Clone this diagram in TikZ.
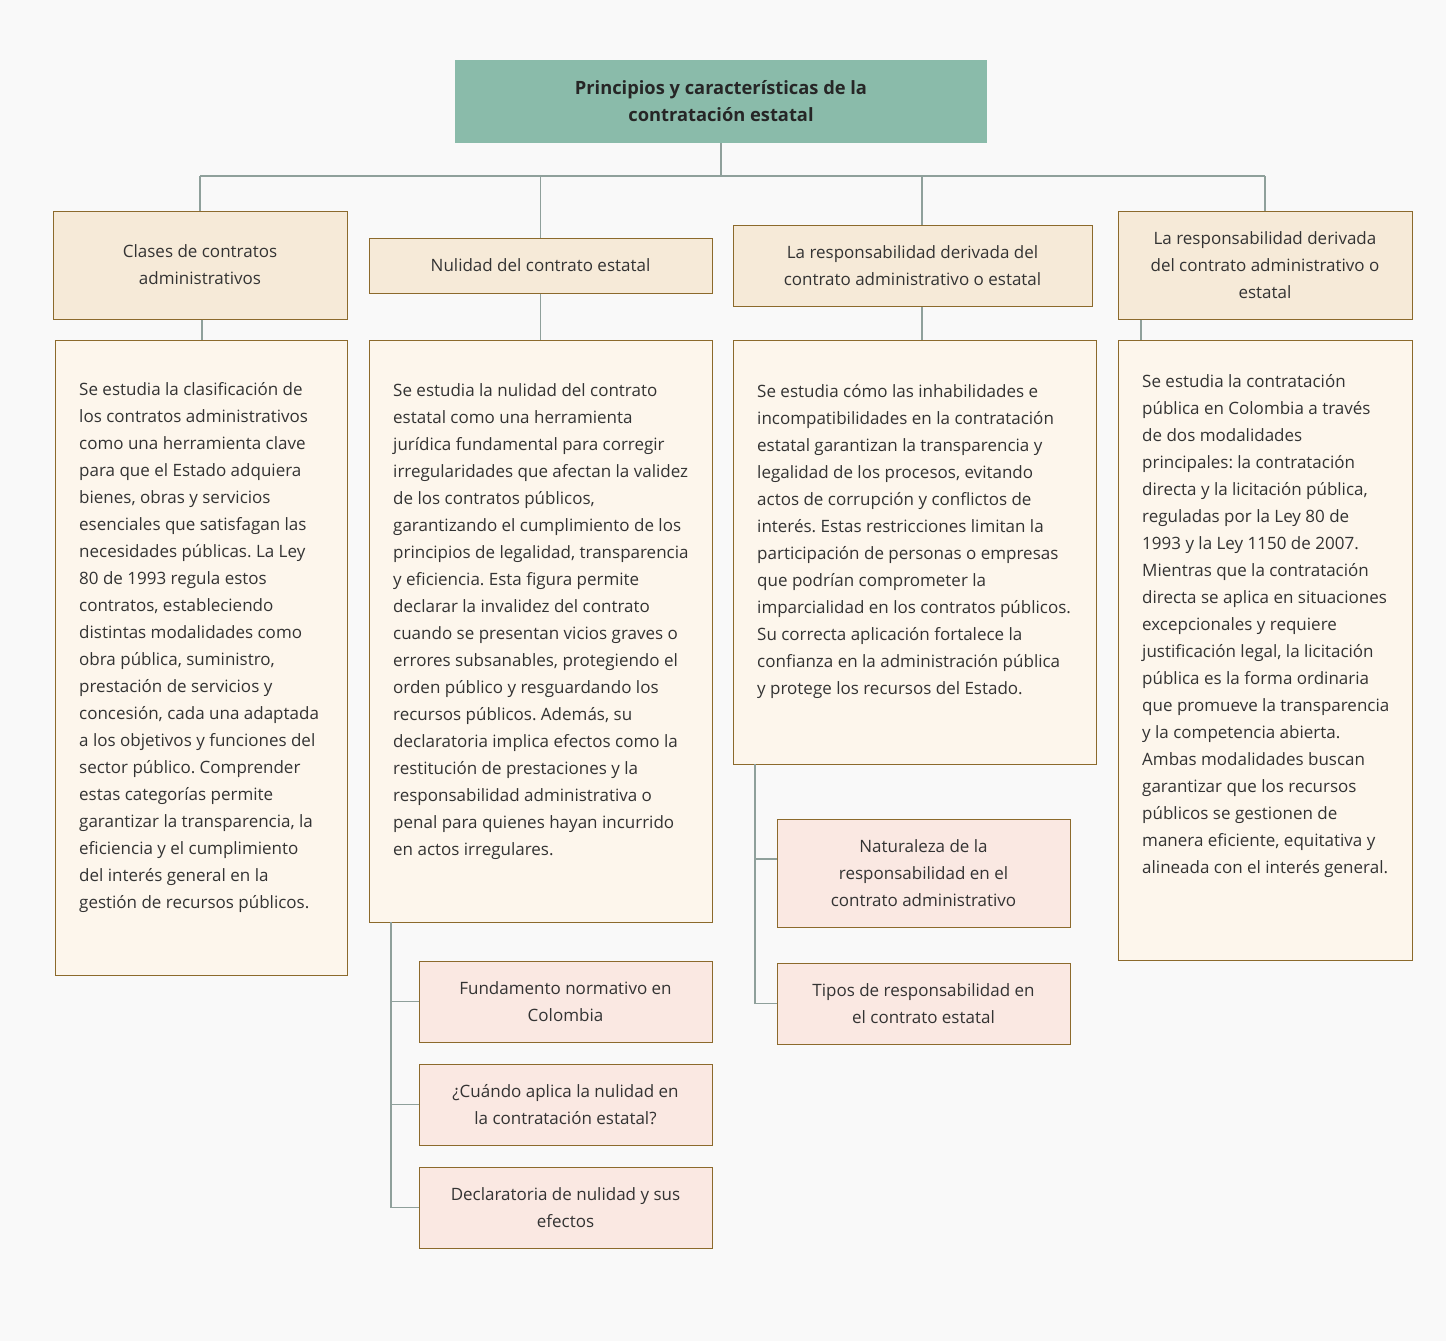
\documentclass[tikz,border=0pt]{standalone}
\usepackage{fontspec}
\setmainfont{Open Sans}
\usetikzlibrary{calc}
\frenchspacing
\definecolor{bgc}{HTML}{F9F9F9}
\definecolor{titlefill}{HTML}{8ABBAA}
\definecolor{headfill}{HTML}{F6EAD8}
\definecolor{bodyfill}{HTML}{FDF6EC}
\definecolor{subfill}{HTML}{FAE8E2}
\definecolor{brd}{HTML}{8C6A2C}
\definecolor{conncol}{HTML}{8FA09B}
\definecolor{txt}{HTML}{333333}
\tikzset{
  boxbase/.style={rectangle, draw=brd, line width=1pt, inner sep=0pt, text=txt,
    align=center, font=\fontsize{17}{27}\selectfont},
  titlebox/.style={rectangle, fill=titlefill, inner sep=0pt, text=black!85,
    align=center, font=\bfseries\fontsize{18.3}{27}\selectfont},
  headbox/.style={boxbase, fill=headfill},
  bodybox/.style={boxbase, fill=bodyfill},
  subbox/.style={boxbase, fill=subfill},
  bodytext/.style={anchor=north west, inner sep=0pt, align=left, text=txt,
    font=\fontsize{17}{27}\selectfont},
  conn/.style={draw=conncol, line width=1.4pt},
}
\begin{document}
\begin{tikzpicture}[x=1pt,y=-1pt]
\fill[bgc] (0,0) rectangle (1446,1341);
\useasboundingbox (0,0) rectangle (1446,1341);

% title
\node[titlebox, minimum width=532pt, minimum height=83pt] (title) at (721,101.5)
  {Principios y características de la\\contratación estatal};

% headers
\node[headbox, minimum width=294pt, minimum height=108pt] (h1) at (200,265)
  {Clases de contratos\\administrativos};
\node[headbox, minimum width=343pt, minimum height=55pt] (h2) at (540.5,265.5)
  {Nulidad del contrato estatal};
\node[headbox, minimum width=359pt, minimum height=81pt] (h3) at (912.5,265.5)
  {La responsabilidad derivada del\\contrato administrativo o estatal};
\node[headbox, minimum width=294pt, minimum height=108pt] (h4) at (1265,265)
  {La responsabilidad derivada\\del contrato administrativo o\\estatal};

% bodies
\node[bodybox, minimum width=292pt, minimum height=635pt] (b1) at (201,657.5) {};
\node[bodybox, minimum width=343pt, minimum height=582pt] (b2) at (540.5,631) {};
\node[bodybox, minimum width=363pt, minimum height=424pt] (b3) at (914.5,552) {};
\node[bodybox, minimum width=294pt, minimum height=620pt] (b4) at (1265,650) {};

\node[bodytext] (b1t) at (79,376) {\strut Se estudia la clasificación de\\
los contratos administrativos\\
como una herramienta clave\\
para que el Estado adquiera\\
bienes, obras y servicios\\
esenciales que satisfagan las\\
necesidades públicas. La Ley\\
80 de 1993 regula estos\\
contratos, estableciendo\\
distintas modalidades como\\
obra pública, suministro,\\
prestación de servicios y\\
concesión, cada una adaptada\\
a los objetivos y funciones del\\
sector público. Comprender\\
estas categorías permite\\
garantizar la transparencia, la\\
eficiencia y el cumplimiento\\
del interés general en la\\
gestión de recursos públicos.};

\node[bodytext] (b2t) at (393,377) {\strut Se estudia la nulidad del contrato\\
estatal como una herramienta\\
jurídica fundamental para corregir\\
irregularidades que afectan la validez\\
de los contratos públicos,\\
garantizando el cumplimiento de los\\
principios de legalidad, transparencia\\
y eficiencia. Esta figura permite\\
declarar la invalidez del contrato\\
cuando se presentan vicios graves o\\
errores subsanables, protegiendo el\\
orden público y resguardando los\\
recursos públicos. Además, su\\
declaratoria implica efectos como la\\
restitución de prestaciones y la\\
responsabilidad administrativa o\\
penal para quienes hayan incurrido\\
en actos irregulares.};

\node[bodytext] (b3t) at (757,378) {\strut Se estudia cómo las inhabilidades e\\
incompatibilidades en la contratación\\
estatal garantizan la transparencia y\\
legalidad de los procesos, evitando\\
actos de corrupción y conflictos de\\
interés. Estas restricciones limitan la\\
participación de personas o empresas\\
que podrían comprometer la\\
imparcialidad en los contratos públicos.\\
Su correcta aplicación fortalece la\\
confianza en la administración pública\\
y protege los recursos del Estado.};

\node[bodytext] (b4t) at (1142,368) {\strut Se estudia la contratación\\
pública en Colombia a través\\
de dos modalidades\\
principales: la contratación\\
directa y la licitación pública,\\
reguladas por la Ley 80 de\\
1993 y la Ley 1150 de 2007.\\
Mientras que la contratación\\
directa se aplica en situaciones\\
excepcionales y requiere\\
justificación legal, la licitación\\
pública es la forma ordinaria\\
que promueve la transparencia\\
y la competencia abierta.\\
Ambas modalidades buscan\\
garantizar que los recursos\\
públicos se gestionen de\\
manera eficiente, equitativa y\\
alineada con el interés general.};

% sub boxes
\node[subbox, minimum width=293pt, minimum height=81pt] (s1) at (565.5,1001.5)
  {Fundamento normativo en\\Colombia};
\node[subbox, minimum width=293pt, minimum height=81pt] (s2) at (565.5,1104.5)
  {¿Cuándo aplica la nulidad en\\la contratación estatal?};
\node[subbox, minimum width=293pt, minimum height=81pt] (s3) at (565.5,1207.5)
  {Declaratoria de nulidad y sus\\efectos};
\node[subbox, minimum width=293pt, minimum height=108pt] (t1) at (923.5,873)
  {Naturaleza de la\\responsabilidad en el\\contrato administrativo};
\node[subbox, minimum width=293pt, minimum height=81pt] (t2) at (923.5,1003.5)
  {Tipos de responsabilidad en\\el contrato estatal};

% connectors
\coordinate (busL) at (200,176);
\coordinate (busR) at (1265,176);
\coordinate (j3) at (922,176);
\coordinate (j1) at (202,176);
\coordinate (j4) at (1141,176);
\coordinate (n0) at (391,922);
\coordinate (r0) at (755,764);
\draw[conn] (title.south) -- (title.south |- busL);
\draw[conn] (busL) -- (busR);
\draw[conn] (busL) -- (h1.north);
\draw[conn] (h2.north |- busL) -- (h2.north);
\draw[conn] (j3) -- (j3 |- h3.north);
\draw[conn] (busR) -- (h4.north);
\draw[conn] (h1.south -| j1) -- (b1.north -| j1);
\draw[conn] (h2.south) -- (h2.south |- b2.north);
\draw[conn] (h3.south -| j3) -- (b3.north -| j3);
\draw[conn] (h4.south -| j4) -- (b4.north -| j4);
\draw[conn] (n0) |- (s3.west);
\draw[conn] (n0 |- s1.west) -- (s1.west);
\draw[conn] (n0 |- s2.west) -- (s2.west);
\draw[conn] (r0) |- (t2.west);
\draw[conn] ($(t1.west)+(0,-14)$) -- ($(t1.west -| r0)+(0,-14)$);
\end{tikzpicture}
\end{document}
